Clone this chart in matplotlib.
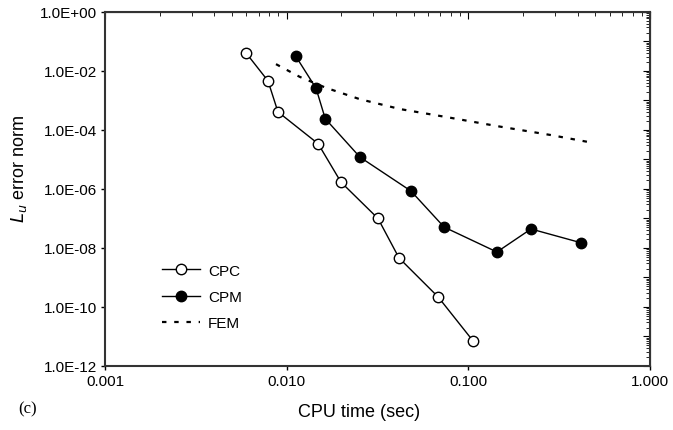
import matplotlib
matplotlib.use("Agg")
import matplotlib.pyplot as plt
from matplotlib.ticker import FixedLocator, FuncFormatter, LogLocator, NullLocator

# values (log-log plot)
cpc_time = [0.00597, 0.00789, 0.00895, 0.0149, 0.0199, 0.0318, 0.0415, 0.0681, 0.106]
cpc_err = [4.1e-2, 4.6e-3, 4.1e-4, 3.4e-5, 1.7e-6, 1.0e-7, 4.6e-9, 2.2e-10, 7.1e-12]

cpm_time = [0.0112, 0.0145, 0.0163, 0.0253, 0.0483, 0.0735, 0.1435, 0.221, 0.417]
cpm_err = [3.2e-2, 2.6e-3, 2.4e-4, 1.2e-5, 8.5e-7, 5.1e-8, 7.3e-9, 4.4e-8, 1.5e-8]

fem_time = [0.00873, 0.0118, 0.0164, 0.0253, 0.0421, 0.0793, 0.149, 0.281, 0.491]
fem_err = [1.7e-2, 6.3e-3, 2.7e-3, 1.1e-3, 5.1e-4, 2.6e-4, 1.3e-4, 6.8e-5, 3.6e-5]

x_ticks = [0.001, 0.01, 0.1, 1.0]
y_ticks = [1e-12, 1e-10, 1e-8, 1e-6, 1e-4, 1e-2, 1e0]

plt.rcParams['font.family'] = ['Liberation Sans', 'DejaVu Sans']

fig = plt.figure(figsize=(6.73, 4.31), dpi=100)
ax = fig.add_axes([0.156, 0.1485, 0.810, 0.8215])

ax.plot(cpc_time, cpc_err, '-o', color='black', lw=1, ms=7.5, mfc='white',
        mec='black', mew=1, label='CPC')
ax.plot(cpm_time, cpm_err, '-o', color='black', lw=1, ms=7.5, mfc='black',
        mec='black', label='CPM')
ax.plot(fem_time, fem_err, color='black', lw=1.6, linestyle=(0, (2, 3.5)),
        label='FEM')

ax.set_xscale('log')
ax.set_yscale('log')
ax.set_xlim(0.001, 1.0)
ax.set_ylim(1e-12, 1.0)

ax.xaxis.set_major_locator(FixedLocator(x_ticks))
ax.yaxis.set_major_locator(FixedLocator(y_ticks))
ax.xaxis.set_minor_locator(NullLocator())
ax.yaxis.set_minor_locator(NullLocator())
ax.xaxis.set_major_formatter(FuncFormatter(lambda v, p: f"{v:.3f}"))
ax.yaxis.set_major_formatter(FuncFormatter(lambda v, p: f"{v:.1E}"))
ax.tick_params(direction='out', length=3, width=1, labelsize=11, pad=3)

for s in ax.spines.values():
    s.set_linewidth(1.5)
    s.set_color('#333333')

# inward ticks on top and right
top = ax.secondary_xaxis('top')
top.set_xscale('log')
top.xaxis.set_major_locator(LogLocator(base=10))
top.xaxis.set_minor_locator(LogLocator(base=10, subs=range(2, 10)))
top.tick_params(which='both', direction='in', labeltop=False)
top.tick_params(which='major', length=5)
top.tick_params(which='minor', length=3)

right = ax.secondary_yaxis('right')
right.set_yscale('log')
right.yaxis.set_major_locator(LogLocator(base=10, numticks=20))
right.yaxis.set_minor_locator(LogLocator(base=10, subs=range(2, 10), numticks=20))
right.tick_params(which='both', direction='in', labelright=False)
right.tick_params(which='major', length=5)
right.tick_params(which='minor', length=3)

ax.set_xlabel('CPU time (sec)', fontsize=13)
ax.xaxis.set_label_coords(0.466, -0.105)
ax.set_ylabel(r'$L_u$ error norm', fontsize=13, va='center')
ax.yaxis.set_label_coords(-0.158, 0.56)

ax.legend(loc='center left', bbox_to_anchor=(0.105, 0.195), frameon=False,
          fontsize=11, handlelength=2.5, handletextpad=0.5, labelspacing=0.8,
          borderpad=0, borderaxespad=0)

fig.text(0.027, 0.04, '(c)', fontsize=12, family='Liberation Serif')

fig.savefig('out.png', dpi=100)
